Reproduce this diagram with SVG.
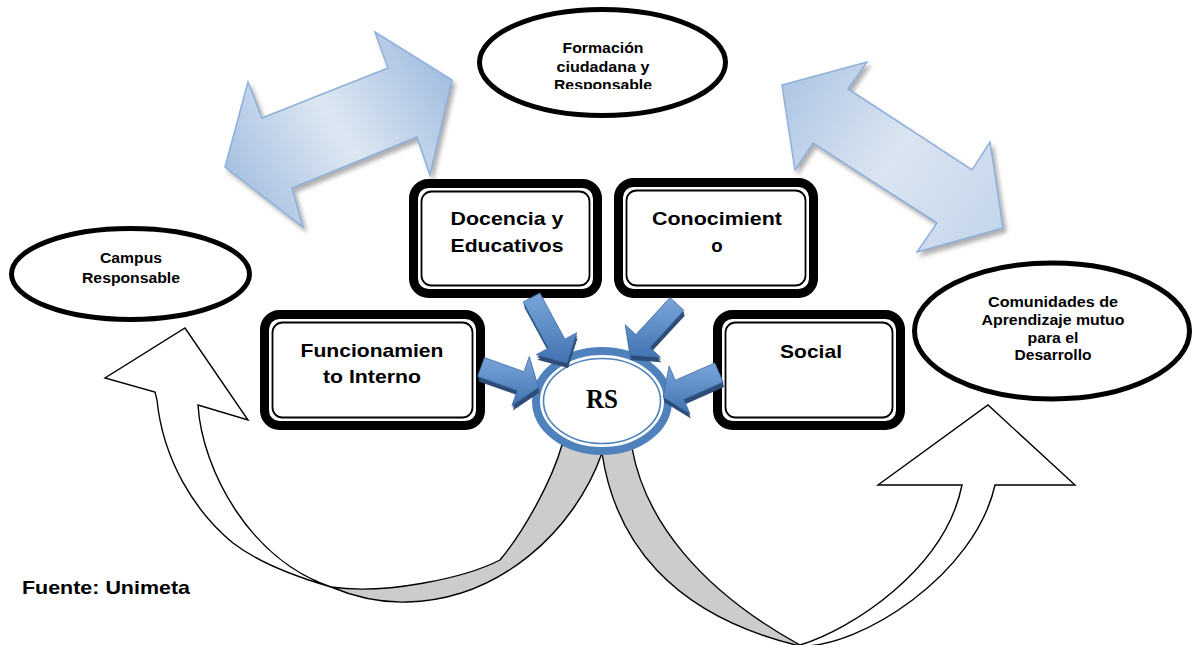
<svg xmlns="http://www.w3.org/2000/svg" xmlns:xlink="http://www.w3.org/1999/xlink" width="1194" height="645" viewBox="0 0 1194 645">
<style>
.ell{fill:#fff;stroke:#000;stroke-width:5}
.outer{fill:#fff;stroke:#000;stroke-width:9}
.inner{fill:none;stroke:#000;stroke-width:1.8}
.t{font-family:"Liberation Sans",Arial,sans-serif;font-weight:bold;fill:#000;text-anchor:middle}
.tb{font-size:18.6px}
.te{font-size:14px}
.big{stroke:#8fb0da;stroke-width:1.5;stroke-linejoin:miter}
.curve{stroke:#000;stroke-width:1.4;stroke-linejoin:miter}
.dark{fill:#2d4c78}
.blue{fill:url(#gBlue);stroke:#3f6ca6;stroke-width:0.8}
</style>
<defs>
<filter id="sh" x="-10%" y="-10%" width="130%" height="130%">
<feDropShadow dx="3" dy="4" stdDeviation="2" flood-color="#7a7a7a" flood-opacity="0.6"/>
</filter>
<linearGradient id="gL" gradientUnits="userSpaceOnUse" x1="225" y1="200" x2="452" y2="60">
<stop offset="0" stop-color="#9fbbe0"/>
<stop offset="0.5" stop-color="#dde7f2"/>
<stop offset="1" stop-color="#9dbadf"/>
</linearGradient>
<linearGradient id="gR" gradientUnits="userSpaceOnUse" x1="782" y1="85" x2="1003" y2="235">
<stop offset="0" stop-color="#aec6e4"/>
<stop offset="0.5" stop-color="#dbe5f1"/>
<stop offset="1" stop-color="#c3d5eb"/>
</linearGradient>
<linearGradient id="gBlue" x1="0" y1="0" x2="0" y2="1">
<stop offset="0" stop-color="#7aa5da"/>
<stop offset="1" stop-color="#4274b2"/>
</linearGradient>
<polygon id="a1" points="523.1,302 548.2,348.2 536.3,354.7 567,363 576.7,332.7 564.9,339.2 539.9,293"/>
<polygon id="a2" points="670,297.6 635.9,334.6 625.2,324.7 630,355 660.5,357.3 649.9,347.4 684,310.4"/>
<polygon id="a3" points="477.6,376.4 517.2,390.5 511.9,405.6 538.5,387.5 529.3,356.6 524,371.7 484.4,357.6"/>
<polygon id="a4" points="714.8,362.9 675.3,380.2 669.1,366 663,397 689.9,413.6 683.7,399.4 723.2,382.1"/>
<clipPath id="clipF"><rect x="480" y="0" width="250" height="89"/></clipPath>
</defs>
<rect width="1194" height="645" fill="#fff"/>

<g id="connectors">
<polygon class="big" filter="url(#sh)" fill="url(#gL)" points="225,167 248,82 262,118 388,68 375,32 452,80 430,175 417,137 292,188 303,227"/>
<polygon class="big" filter="url(#sh)" fill="url(#gR)" points="782,85 867,62 848,89 972,170 990,142 1003,228 917,252 937,223 813,143 795,170"/>

<path class="curve" fill="#cccccc" d="M331,587 C385,595 465,578 500,560 C525,530 552,480 562,445 L602,453 C575,530 500,600 407,602 C375,603 350,595 331,587 Z"/>
<path class="curve" fill="#fff" d="M331,587 C290,575 255,560 233,543 C195,512 163,460 157,400 L155,392 L105,378 L185,328 L248,420 L198,405 C202,470 250,560 331,587 Z"/>
<path class="curve" fill="#cccccc" d="M602,453 C615,540 670,615 800,646 L800,645 C700,590 645,520 632,448 Z"/>
<path class="curve" fill="#fff" d="M800,645 C850,630 945,570 962,485 L878,485 L988,405 L1075,485 L995,485 C975,575 860,648 800,646 Z"/>
</g>

<g id="formacion">
<ellipse class="ell" cx="602.5" cy="62.5" rx="123" ry="53"/>
<g clip-path="url(#clipF)">
<text class="t te" x="603" y="53" textLength="81" lengthAdjust="spacingAndGlyphs">Formación</text>
<text class="t te" x="603" y="71.5" textLength="93" lengthAdjust="spacingAndGlyphs">ciudadana y</text>
<text class="t te" x="603" y="90" textLength="98" lengthAdjust="spacingAndGlyphs">Responsable</text>
</g>
</g>

<g id="campus">
<ellipse class="ell" cx="130.5" cy="274" rx="119" ry="45.5"/>
<text class="t te" x="131" y="263" textLength="62" lengthAdjust="spacingAndGlyphs">Campus</text>
<text class="t te" x="131" y="283" textLength="98" lengthAdjust="spacingAndGlyphs">Responsable</text>
</g>

<g id="comunidades">
<ellipse class="ell" cx="1052" cy="331" rx="137.5" ry="68"/>
<text class="t te" x="1053" y="307" textLength="130" lengthAdjust="spacingAndGlyphs">Comunidades de</text>
<text class="t te" x="1053" y="324.5" textLength="143" lengthAdjust="spacingAndGlyphs">Aprendizaje mutuo</text>
<text class="t te" x="1053" y="342.5" textLength="51" lengthAdjust="spacingAndGlyphs">para el</text>
<text class="t te" x="1053" y="360" textLength="77" lengthAdjust="spacingAndGlyphs">Desarrollo</text>
</g>

<g id="docencia">
<rect class="outer" x="413.5" y="183.5" width="184" height="110" rx="15"/>
<rect class="inner" x="421.5" y="191.5" width="168" height="94" rx="10"/>
<text class="t tb" x="507" y="225" textLength="113" lengthAdjust="spacingAndGlyphs">Docencia y</text>
<text class="t tb" x="507" y="252" textLength="113" lengthAdjust="spacingAndGlyphs">Educativos</text>
</g>

<g id="conocimiento">
<rect class="outer" x="618.5" y="182.5" width="195" height="111" rx="15"/>
<rect class="inner" x="626.5" y="190.5" width="179" height="95" rx="10"/>
<text class="t tb" x="717" y="225" textLength="130" lengthAdjust="spacingAndGlyphs">Conocimient</text>
<text class="t tb" x="717" y="252">o</text>
</g>

<g id="funcionamiento">
<rect class="outer" x="264.5" y="314.5" width="216" height="111" rx="15"/>
<rect class="inner" x="272.5" y="322.5" width="200" height="95" rx="10"/>
<text class="t tb" x="372" y="357" textLength="143" lengthAdjust="spacingAndGlyphs">Funcionamien</text>
<text class="t tb" x="372" y="383" textLength="98" lengthAdjust="spacingAndGlyphs">to Interno</text>
</g>

<g id="social">
<rect class="outer" x="717.5" y="314.5" width="183" height="111" rx="15"/>
<rect class="inner" x="725.5" y="322.5" width="167" height="95" rx="10"/>
<text class="t tb" x="811" y="358" textLength="62" lengthAdjust="spacingAndGlyphs">Social</text>
</g>

<g id="rs">
<ellipse cx="602" cy="401" rx="66" ry="50" fill="#fff" stroke="#4f81bd" stroke-width="8"/>
<ellipse cx="602" cy="401" rx="58.5" ry="42.5" fill="none" stroke="#4f81bd" stroke-width="1.6"/>
<text x="602" y="408" font-family="'Liberation Serif','Times New Roman',serif" font-weight="bold" font-size="27" text-anchor="middle" textLength="32" lengthAdjust="spacingAndGlyphs">RS</text>
</g>

<g id="blue-arrows">
<use xlink:href="#a1" class="dark" transform="translate(0.5,2.5)"/>
<use xlink:href="#a1" class="dark" transform="translate(1,5)"/>
<use xlink:href="#a1" class="blue"/>
<use xlink:href="#a2" class="dark" transform="translate(0.5,2.5)"/>
<use xlink:href="#a2" class="dark" transform="translate(1,5)"/>
<use xlink:href="#a2" class="blue"/>
<use xlink:href="#a3" class="dark" transform="translate(0.5,2.5)"/>
<use xlink:href="#a3" class="dark" transform="translate(1,5)"/>
<use xlink:href="#a3" class="blue"/>
<use xlink:href="#a4" class="dark" transform="translate(0.5,2.5)"/>
<use xlink:href="#a4" class="dark" transform="translate(1,5)"/>
<use xlink:href="#a4" class="blue"/>
</g>

<g id="fuente">
<text class="t tb" x="22" y="594" style="text-anchor:start" textLength="168" lengthAdjust="spacingAndGlyphs">Fuente: Unimeta</text>
</g>
</svg>
